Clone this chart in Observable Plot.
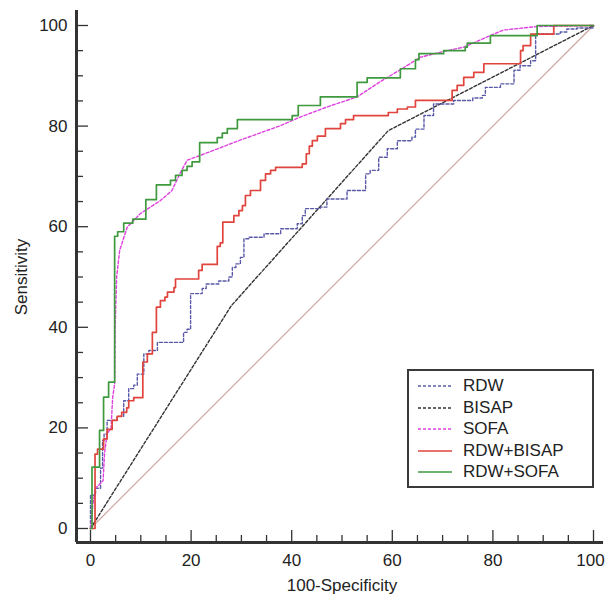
<!DOCTYPE html>
<html>
<head>
<meta charset="utf-8">
<script src="https://cdn.jsdelivr.net/npm/d3@7"></script>
<script src="https://cdn.jsdelivr.net/npm/@observablehq/plot@0.6"></script>
<style>
  html, body { margin: 0; padding: 0; background: #fff; }
  #wrap { position: relative; width: 605px; height: 597px; font-family: "Liberation Sans", Arial, sans-serif; }
  #legend { position: absolute; left: 407px; top: 369px; width: 183px; height: 115px; border: 2px solid #3a3a3a; background: #fff; }
  .row { position: absolute; left: 0; height: 20px; display: flex; align-items: center; font-size: 17px; color: #222; }
  .row svg { margin-left: 9px; margin-right: 11px; }
</style>
</head>
<body>
<div id="wrap"></div>
<script>
// ---- data (100-Specificity, Sensitivity) ----
const rdw = [[0,0],[0,6.6],[1,8],[2,12],[2.4,17.5],[2.7,18.8],[3.3,21.5],[5.3,22.3],[6.6,25.4],[7.6,27.8],[8.6,28.5],[9.3,30.7],[10.6,34.7],[11.6,35.4],[13.3,37],[18.5,39],[19.2,39.6],[19.9,46.7],[22.2,47.7],[23,48.6],[25.5,49.2],[27.5,50],[28.2,51.9],[28.9,52.6],[29.8,53.9],[30.5,57.6],[31.5,57.9],[34.5,58.6],[37.8,59.6],[41.1,60.6],[42.1,62.2],[42.7,63.6],[45.7,63.9],[47,65.5],[51,67.2],[54.7,70.5],[55.6,71.2],[57.3,73.8],[59,75.5],[61,77.1],[63.9,77.8],[64.6,79.4],[66.3,82.1],[68.2,84.4],[72.2,85.1],[76,85.6],[77.9,86.1],[78.5,87.7],[81.5,88.4],[84.2,91.1],[85.4,92],[87.5,93],[88.5,94.5],[88.5,98.3],[93.4,98.7],[94.7,99.3],[96.7,99.5],[100,100]];
const bisap = [[0,0],[28,44.3],[59.2,79.1],[100,100]];
const sofa = [[0,0],[0.5,5],[1,8],[2.5,9.5],[2.8,15],[3.3,18.8],[4.1,20],[4.4,26],[4.8,28.8],[4.9,40],[5.2,50],[5.8,55.3],[7.3,59.9],[9.9,62.6],[13.9,65.2],[16.2,67.2],[17.9,70.8],[19.2,73.2],[21.9,74.2],[30,77.3],[37.8,80.1],[41.7,81.8],[47,83.8],[53,85.8],[57.7,88.9],[61.6,91.2],[65.6,93.7],[70,94.8],[74.2,95.7],[79.5,98],[82.1,99.1],[88.8,99.8],[100,100]];
const rdwBisap = [[0,0],[0.9,14.8],[1.4,15.8],[2.6,17.8],[3.3,19.7],[4.3,21.5],[5.3,22.3],[6.2,23.1],[7.2,24],[7.6,25.4],[8.6,26],[10.4,33.1],[11.3,34.7],[12.3,39],[13.1,44],[13.9,45.3],[14.8,46],[15.3,47],[16.6,47.9],[16.9,49.6],[21.5,51.3],[22.2,52.5],[25.2,56.1],[25.8,56.8],[26.3,60.9],[28.5,62.2],[29.5,63.2],[30.2,64.2],[30.8,66.2],[31.8,67.2],[33.8,69.2],[34.8,70.5],[35.8,71.2],[36.8,71.8],[42.1,72.5],[42.9,74.5],[43.5,76],[44.1,77.1],[45.1,78],[46.7,79.5],[49.7,80.5],[50.7,81.3],[52.3,82.1],[59.2,82.7],[61,83.4],[63,83.8],[64.6,85.1],[71.9,87.1],[72.9,88.1],[74.2,89.7],[76.2,90.7],[78.2,92.4],[85.5,95],[86,96],[87.5,98.3],[92.1,100],[100,100]];
const rdwSofa = [[0,0],[0.3,12.2],[1.8,19.5],[2.6,26.1],[3.6,29.1],[4.8,58.1],[5.4,59],[6.6,60.7],[8.4,61.5],[11,65.4],[13.1,68.3],[15.9,69.2],[16.9,70.2],[18.2,71.2],[19.2,72],[20.2,72.9],[21.7,76.7],[25.2,77.7],[26.2,78.6],[27.2,79.5],[29.2,81.3],[40.1,82.1],[41.3,84.1],[45.7,85.8],[53,88.7],[55,89.6],[61.6,91.4],[64.6,93.2],[65.3,94.4],[70.2,95],[74.5,95.7],[74.9,96.5],[79.5,98],[88.8,100],[100,100]];
const reference = [[0,0],[100,100]];
const majorTicks = [0, 20, 40, 60, 80, 100];
const minorTicks = [5, 10, 15, 25, 30, 35, 45, 50, 55, 65, 70, 75, 85, 90, 95];
const seriesNames = ["RDW", "BISAP", "SOFA", "RDW+BISAP", "RDW+SOFA"];
const seriesColors = ["#5a5aa8", "#333333", "#e040e0", "#e0443c", "#3f9a3f"];
const seriesDashed = [true, true, true, false, false];

// ---- layout ----
const W = 605, H = 597;
const mL = 90, mR = 12, mT = 25, mB = 69;
const u = 100 / (W - mL - mR);      // data units per pixel
const off = -14 * u;                // axis offset from the data area

const X = d => d[0], Y = d => d[1];
const lineMark = (data, i, curve) => Plot.line(data, {
  x: X, y: Y, curve, stroke: seriesColors[i],
  strokeWidth: seriesDashed[i] ? 1.4 : 1.7,
  strokeDasharray: seriesDashed[i] ? "3,2" : null
});

const allTicks = majorTicks.map(v => ({v, major: true})).concat(minorTicks.map(v => ({v, major: false})));
const innerX = majorTicks.slice(0, -1);
const lastX = majorTicks.slice(-1);

const chart = Plot.plot({
  width: W, height: H,
  marginLeft: mL, marginRight: mR, marginTop: mT, marginBottom: mB,
  x: {domain: [0, 100], axis: null},
  y: {domain: [0, 100], axis: null},
  style: {fontFamily: '"Liberation Sans", Arial, sans-serif', background: "#fff", overflow: "visible"},
  marks: [
    Plot.line(reference, {x: X, y: Y, stroke: "#c9a0a0", strokeWidth: 1.1}),
    lineMark(bisap, 1, "linear"),
    lineMark(rdw, 0, "step-after"),
    lineMark(sofa, 2, "linear"),
    lineMark(rdwBisap, 3, "step-after"),
    lineMark(rdwSofa, 4, "step-after"),
    // axes
    Plot.ruleY([off], {x1: off, x2: 102, stroke: "#333", strokeWidth: 3}),
    Plot.ruleX([off], {y1: off, y2: 103, stroke: "#333", strokeWidth: 3}),
    Plot.ruleX(allTicks, {x: d => d.v, y1: off, y2: d => off + (d.major ? 12 : 7) * u, stroke: "#333", strokeWidth: 1.3}),
    Plot.ruleY(allTicks, {y: d => d.v, x1: off, x2: d => off + (d.major ? 12 : 7) * u, stroke: "#333", strokeWidth: 1.3}),
    Plot.text(innerX, {x: d => d, y: off, dy: 18, text: d => String(d), fontSize: 17, fill: "#222"}),
    Plot.text(lastX, {x: d => d, y: off, dy: 18, dx: -3, text: d => String(d), fontSize: 17, fill: "#222"}),
    Plot.text(majorTicks, {x: off, y: d => d, dx: -9, text: d => String(d), textAnchor: "end", fontSize: 17, fill: "#222"}),
    Plot.text(["100-Specificity"], {x: 50, y: off, dy: 43, text: d => d, fontSize: 17, fill: "#222"}),
    Plot.text(["Sensitivity"], {x: off, y: 50, dx: -55, text: d => d, rotate: -90, fontSize: 17, fill: "#222"})
  ]
});

const wrap = document.getElementById("wrap");
wrap.appendChild(chart);

// legend
const legend = document.createElement("div");
legend.id = "legend";
seriesNames.forEach((name, i) => {
  const row = document.createElement("div");
  row.className = "row";
  row.style.top = (5 + i * 21.5) + "px";
  const dash = seriesDashed[i] ? 'stroke-dasharray="3,2"' : "";
  row.innerHTML = `<svg width="34" height="4"><line x1="0" y1="2" x2="34" y2="2" stroke="${seriesColors[i]}" stroke-width="${seriesDashed[i] ? 1.4 : 1.7}" ${dash}/></svg><span>${name}</span>`;
  legend.appendChild(row);
});
wrap.appendChild(legend);
</script>
</body>
</html>
